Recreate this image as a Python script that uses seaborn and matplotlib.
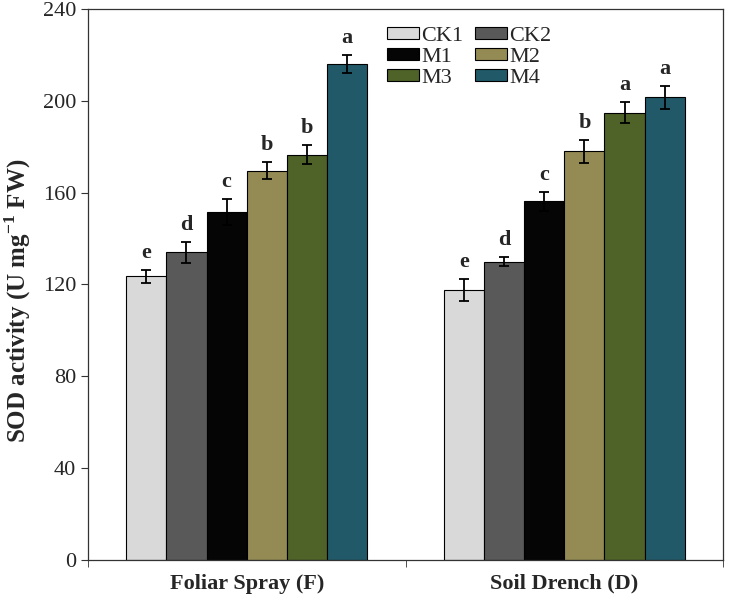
import numpy as np
import pandas as pd
import matplotlib
matplotlib.use("Agg")
import matplotlib.pyplot as plt
import seaborn as sns

# data
methods = ["Foliar Spray (F)", "Soil Drench (D)"]
treatments = ["CK1", "CK2", "M1", "M2", "M3", "M4"]
foliar_mean = [123.5, 134.0, 151.5, 169.6, 176.5, 216.0]
foliar_err = [2.8, 4.5, 5.8, 3.6, 4.2, 4.0]
foliar_sig = ["e", "d", "c", "b", "b", "a"]
soil_mean = [117.8, 130.0, 156.3, 178.0, 194.8, 201.5]
soil_err = [4.8, 2.0, 4.2, 5.0, 4.6, 5.0]
soil_sig = ["e", "d", "c", "b", "a", "a"]
colors = ["#d9d9d9", "#595959", "#050505", "#948a54", "#4f6228", "#215968"]

df = pd.DataFrame({
    "method": np.repeat(methods, len(treatments)),
    "treatment": treatments * 2,
    "sod": foliar_mean + soil_mean,
    "err": foliar_err + soil_err,
    "sig": foliar_sig + soil_sig,
})

sns.set_style("ticks")
plt.rcParams["font.family"] = ["Liberation Serif", "DejaVu Serif"]
plt.rcParams["mathtext.fontset"] = "custom"
plt.rcParams["mathtext.rm"] = "Liberation Serif"
plt.rcParams["mathtext.bf"] = "Liberation Serif:bold"

fig = plt.figure(figsize=(7.29, 6.0), dpi=100)
ax = fig.add_axes([0.1207, 0.0667, 0.8711, 0.9183])

sns.barplot(data=df, x="method", y="sod", hue="treatment", hue_order=treatments,
            palette=colors, edgecolor="black", linewidth=0.8, errorbar=None,
            width=0.76, saturation=1, ax=ax)

# error bars + significance letters, positioned on the drawn bars
for i, t in enumerate(treatments):
    cont = ax.containers[i]
    for j, bar in enumerate(cont):
        row = df[(df.method == methods[j]) & (df.treatment == t)].iloc[0]
        xc = bar.get_x() + bar.get_width() / 2
        ax.errorbar(xc, row.sod, yerr=row.err, fmt="none", ecolor="black",
                    elinewidth=1.3, capsize=3.5, capthick=1.3)
        ax.text(xc, row.sod + row.err + 3, row.sig, ha="center", va="bottom",
                fontsize=16, fontweight="bold")

ax.set_ylim(0, 240)
ax.set_yticks(range(0, 241, 40))
ax.set_xlim(-0.5, 1.5)
ax.set_xticks([0, 1])
ax.set_xticklabels(methods, fontsize=16, fontweight="bold")
ax.tick_params(axis="x", length=0, pad=10)
ax.set_xticks([-0.5, 0.5, 1.5], minor=True)
ax.tick_params(axis="x", which="minor", length=5, direction="out", color="#333333")
ax.tick_params(axis="y", labelsize=16, length=5, direction="out", color="#333333")
ax.set_xlabel("")
ax.set_ylabel(r"SOD activity (U mg$^{\mathbf{-1}}$ FW)", fontsize=18, fontweight="bold")
ax.yaxis.set_label_coords(-0.086, 0.47)

for s in ax.spines.values():
    s.set_visible(True)
    s.set_color("#333333")
    s.set_linewidth(0.9)

# legend filled row by row: CK1 CK2 / M1 M2 / M3 M4
handles, labels = ax.get_legend_handles_labels()
order = [0, 2, 4, 1, 3, 5]
ax.legend([handles[k] for k in order], [labels[k] for k in order],
          loc="upper left", bbox_to_anchor=(0.471, 0.967), ncol=2, frameon=False,
          fontsize=16, handlelength=1.45, handleheight=0.45, handletextpad=0.1,
          columnspacing=0.5, labelspacing=0.08, borderaxespad=0, borderpad=0)

fig.savefig("out.png", dpi=100)
